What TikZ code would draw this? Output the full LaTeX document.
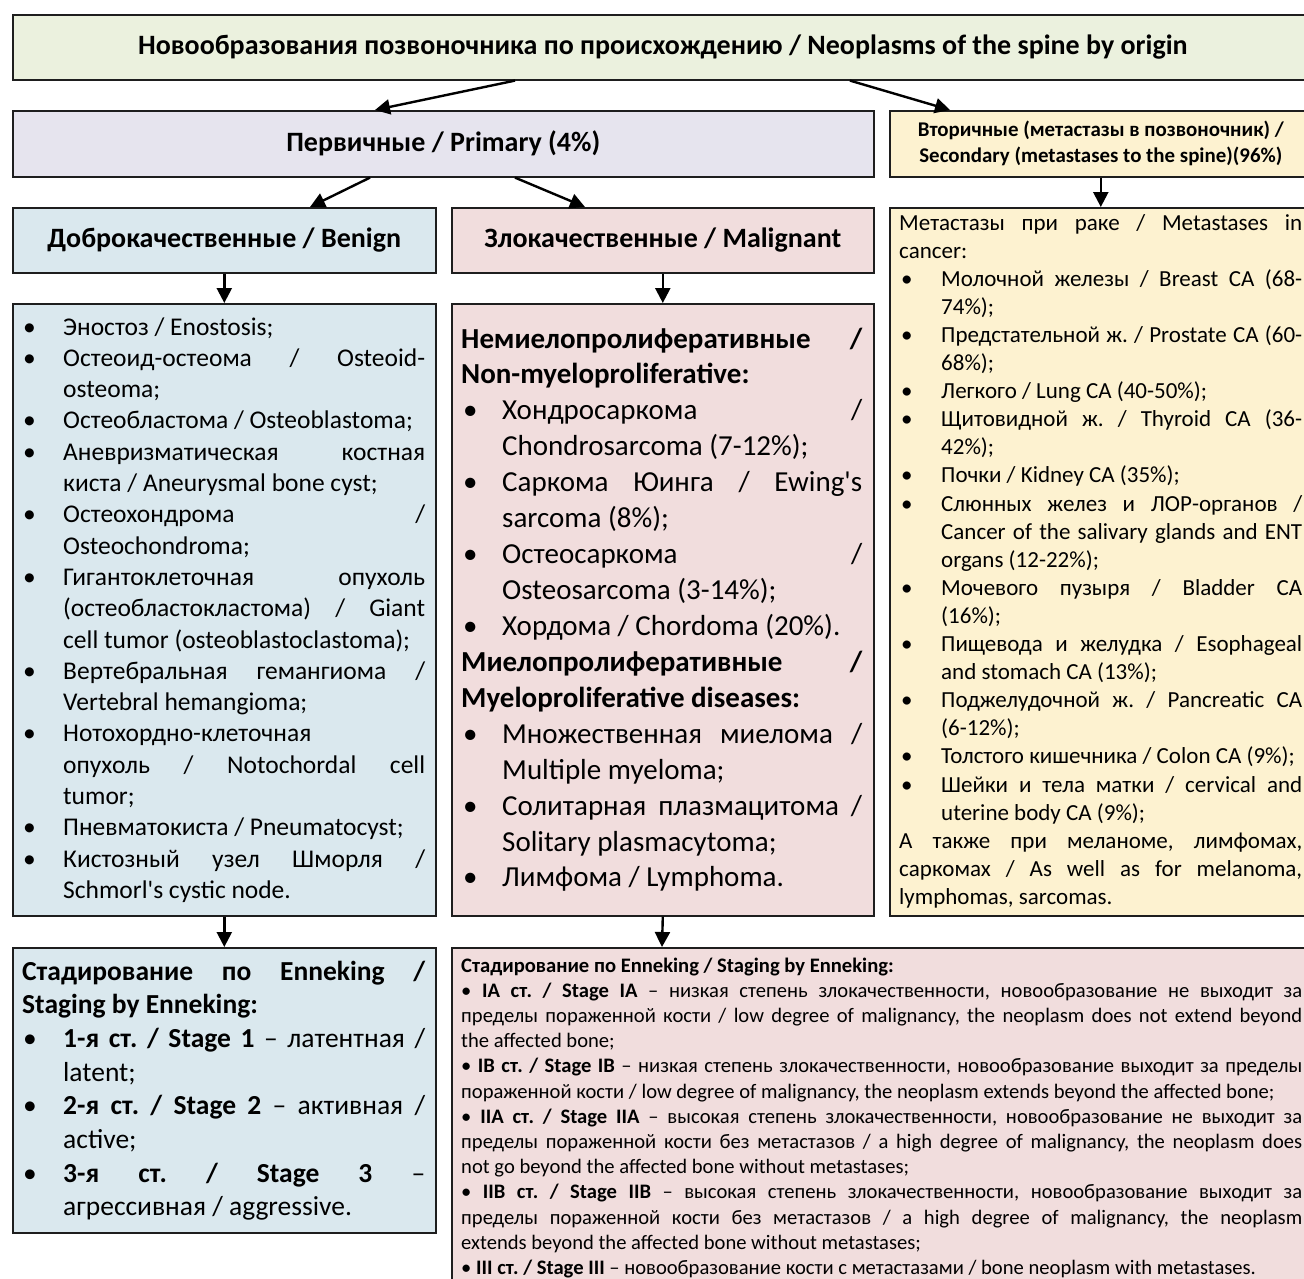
\documentclass[tikz,border=0pt]{standalone}
\usepackage{fontspec}
\setmainfont{Carlito}[Ligatures=TeXOff]
\usetikzlibrary{arrows.meta,calc}
\definecolor{cTop}{RGB}{235,241,222}
\definecolor{cPrim}{RGB}{230,228,238}
\definecolor{cSec}{RGB}{253,242,208}
\definecolor{cBen}{RGB}{218,232,238}
\definecolor{cMal}{RGB}{241,221,221}
\definecolor{cLine}{RGB}{30,30,30}
\frenchspacing
\newdimen\bulo \newdimen\txti
\newcommand\fsz[2]{\fontsize{#1pt}{#2pt}\selectfont}
\newcommand\JL[1]{\hbox to \hsize{#1}}
\newcommand\LL[1]{\hbox to \hsize{#1\hfil}}
\newcommand\BJ[1]{\hbox to \hsize{\hbox to \txti{\hskip\bulo\textbullet\hss}#1}}
\newcommand\BL[1]{\hbox to \hsize{\hbox to \txti{\hskip\bulo\textbullet\hss}#1\hfil}}
\newcommand\CJ[1]{\hbox to \hsize{\hskip\txti\relax #1}}
\newcommand\CL[1]{\hbox to \hsize{\hskip\txti\relax #1\hfil}}
\begin{document}
\begin{tikzpicture}[x=1pt,y=-1pt,
  box/.style={draw=cLine, line width=1.6pt, inner sep=0pt, anchor=north west},
  arr/.style={line width=2.4pt, -{Triangle[length=15pt,width=15pt]}},
  txt/.style={anchor=base west, inner sep=0pt}]
\useasboundingbox (0,0) rectangle (1304,1279);
\clip (0,0) rectangle (1304,1279);
\fill[white] (0,0) rectangle (1304,1279);

% boxes
\node[box, fill=cTop, minimum width=1300, minimum height=65, font={\bfseries\fsz{28}{33}}] (top) at (12,14)
  {Новообразования позвоночника по происхождению / Neoplasms of the spine by origin};
\node[box, fill=cPrim, minimum width=861, minimum height=66, font={\bfseries\fsz{28}{33}}] (prim) at (12,110)
  {Первичные / Primary (4\%)};
\node[box, fill=cSec, minimum width=422, minimum height=66, align=center, font={\bfseries\fsz{20.9}{26}}] (sec) at (889,110)
  {Вторичные (метастазы в позвоночник) /\\Secondary (metastases to the spine)(96\%)};
\node[box, fill=cBen, minimum width=423, minimum height=65, font={\bfseries\fsz{28}{33}}] (ben) at (12,207)
  {Доброкачественные / Benign};
\node[box, fill=cMal, minimum width=422, minimum height=65, font={\bfseries\fsz{28}{33}}] (mal) at (451,207)
  {Злокачественные / Malignant};
\node[box, fill=cBen, minimum width=423, minimum height=612] (benlist) at (12,303) {};
\node[box, fill=cMal, minimum width=422, minimum height=612] (mallist) at (451,303) {};
\node[box, fill=cSec, minimum width=422, minimum height=708] (seclist) at (889,207) {};
\node[box, fill=cBen, minimum width=423, minimum height=285] (benst) at (12,947) {};
\node[box, fill=cMal, minimum width=861, minimum height=345] (malst) at (451,947) {};

% arrows
\draw[arr] ($(top.south west)+(503,0)$) -- ($(prim.north west)+(363,0)$);
\draw[arr] ($(top.south west)+(838,0)$) -- ($(sec.north west)+(61,0)$);
\draw[arr] ($(prim.south west)+(358,0)$) -- ($(ben.north west)+(298,0)$);
\draw[arr] ($(prim.south west)+(503,0)$) -- ($(mal.north west)+(134,0)$);
\draw[arr] (sec.south) -- (seclist.north);
\draw[arr] (ben.south) -- (benlist.north);
\draw[arr] (mal.south) -- (mallist.north);
\draw[arr] (benlist.south) -- (benst.north);
\draw[arr] (mallist.south) -- ($(malst.north west)+(211,0)$);

% benign list
\node[txt] (bentx) at (22,335) {\vtop{\hsize=403pt \fsz{25.5}{31.3}\lineskiplimit=-100pt \bulo=1pt \txti=41pt
\BL{Эностоз / Enostosis;}
\BJ{Остеоид-остеома / Osteoid-}
\CL{osteoma;}
\BL{Остеобластома / Osteoblastoma;}
\BJ{Аневризматическая костная}
\CL{киста / Aneurysmal bone cyst;}
\BJ{Остеохондрома /}
\CL{Osteochondroma;}
\BJ{Гигантоклеточная опухоль}
\CJ{(остеобластокластома) / Giant}
\CL{cell tumor (osteoblastoclastoma);}
\BJ{Вертебральная гемангиома /}
\CL{Vertebral hemangioma;}
\BL{Нотохордно-клеточная}
\CJ{опухоль / Notochordal cell}
\CL{tumor;}
\BL{Пневматокиста / Pneumatocyst;}
\BJ{Кистозный узел Шморля /}
\CL{Schmorl's cystic node.}
}};

% malignant list
\node[txt] (maltx) at (461,348) {\vtop{\hsize=401pt \fsz{29}{35.93}\lineskiplimit=-100pt \bulo=2pt \txti=41pt
\JL{\bfseries Немиелопролиферативные /}
\LL{\bfseries Non-myeloproliferative:}
\BJ{Хондросаркома /}
\CL{Chondrosarcoma (7-12\%);}
\BJ{Саркома Юинга / Ewing's}
\CL{sarcoma (8\%);}
\BJ{Остеосаркома /}
\CL{Osteosarcoma (3-14\%);}
\BL{Хордома / Chordoma (20\%).}
\JL{\bfseries Миелопролиферативные /}
\LL{\bfseries Myeloproliferative diseases:}
\BJ{Множественная миелома /}
\CL{Multiple myeloma;}
\BJ{Солитарная плазмацитома /}
\CL{Solitary plasmacytoma;}
\BL{Лимфома / Lymphoma.}
}};

% secondary list
\node[txt] (sectx) at (899,230) {\vtop{\hsize=403pt \fsz{23}{28.1}\lineskiplimit=-100pt \bulo=2pt \txti=42pt
\JL{Метастазы при раке / Metastases in}
\LL{cancer:}
\BJ{Молочной железы / Breast CA (68-}
\CL{74\%);}
\BJ{Предстательной ж. / Prostate CA (60-}
\CL{68\%);}
\BL{Легкого / Lung CA (40-50\%);}
\BJ{Щитовидной ж. / Thyroid CA (36-}
\CL{42\%);}
\BL{Почки / Kidney CA (35\%);}
\BJ{Слюнных желез и ЛОР-органов /}
\CJ{Cancer of the salivary glands and ENT}
\CL{organs (12-22\%);}
\BJ{Мочевого пузыря / Bladder CA}
\CL{(16\%);}
\BJ{Пищевода и желудка / Esophageal}
\CL{and stomach CA (13\%);}
\BJ{Поджелудочной ж. / Pancreatic CA}
\CL{(6-12\%);}
\BL{Толстого кишечника / Colon CA (9\%);}
\BJ{Шейки и тела матки / cervical and}
\CL{uterine body CA (9\%);}
\JL{А также при меланоме, лимфомах,}
\JL{саркомах / As well as for melanoma,}
\LL{lymphomas, sarcomas.}
}};

% benign staging
\node[txt] (bensttx) at (22,980) {\vtop{\hsize=403pt \fsz{27.5}{33.7}\lineskiplimit=-100pt \bulo=1pt \txti=41pt
\JL{\bfseries Стадирование по Enneking /}
\LL{\bfseries Staging by Enneking:}
\BJ{\textbf{1-я ст. / Stage 1} – латентная /}
\CL{latent;}
\BJ{\textbf{2-я ст. / Stage 2} – активная /}
\CL{active;}
\BJ{\textbf{3-я ст. / Stage 3} –}
\CL{агрессивная / aggressive.}
}};

% malignant staging
\node[txt] (malsttx) at (461,972) {\vtop{\hsize=841pt \fsz{20.6}{25.2}\lineskiplimit=-100pt
\LL{\bfseries Стадирование по Enneking / Staging by Enneking:}
\JL{• \textbf{IA ст. / Stage IA} – низкая степень злокачественности, новообразование не выходит за}
\JL{пределы пораженной кости / low degree of malignancy, the neoplasm does not extend beyond}
\LL{the affected bone;}
\JL{• \textbf{IB ст. / Stage IB} – низкая степень злокачественности, новообразование выходит за пределы}
\LL{пораженной кости / low degree of malignancy, the neoplasm extends beyond the affected bone;}
\JL{• \textbf{IIA ст. / Stage IIA} – высокая степень злокачественности, новообразование не выходит за}
\JL{пределы пораженной кости без метастазов / a high degree of malignancy, the neoplasm does}
\LL{not go beyond the affected bone without metastases;}
\JL{• \textbf{IIB ст. / Stage IIB} – высокая степень злокачественности, новообразование выходит за}
\JL{пределы пораженной кости без метастазов / a high degree of malignancy, the neoplasm}
\LL{extends beyond the affected bone without metastases;}
\LL{• \textbf{III ст. / Stage III} – новообразование кости с метастазами / bone neoplasm with metastases.}
}};
\end{tikzpicture}
\end{document}
